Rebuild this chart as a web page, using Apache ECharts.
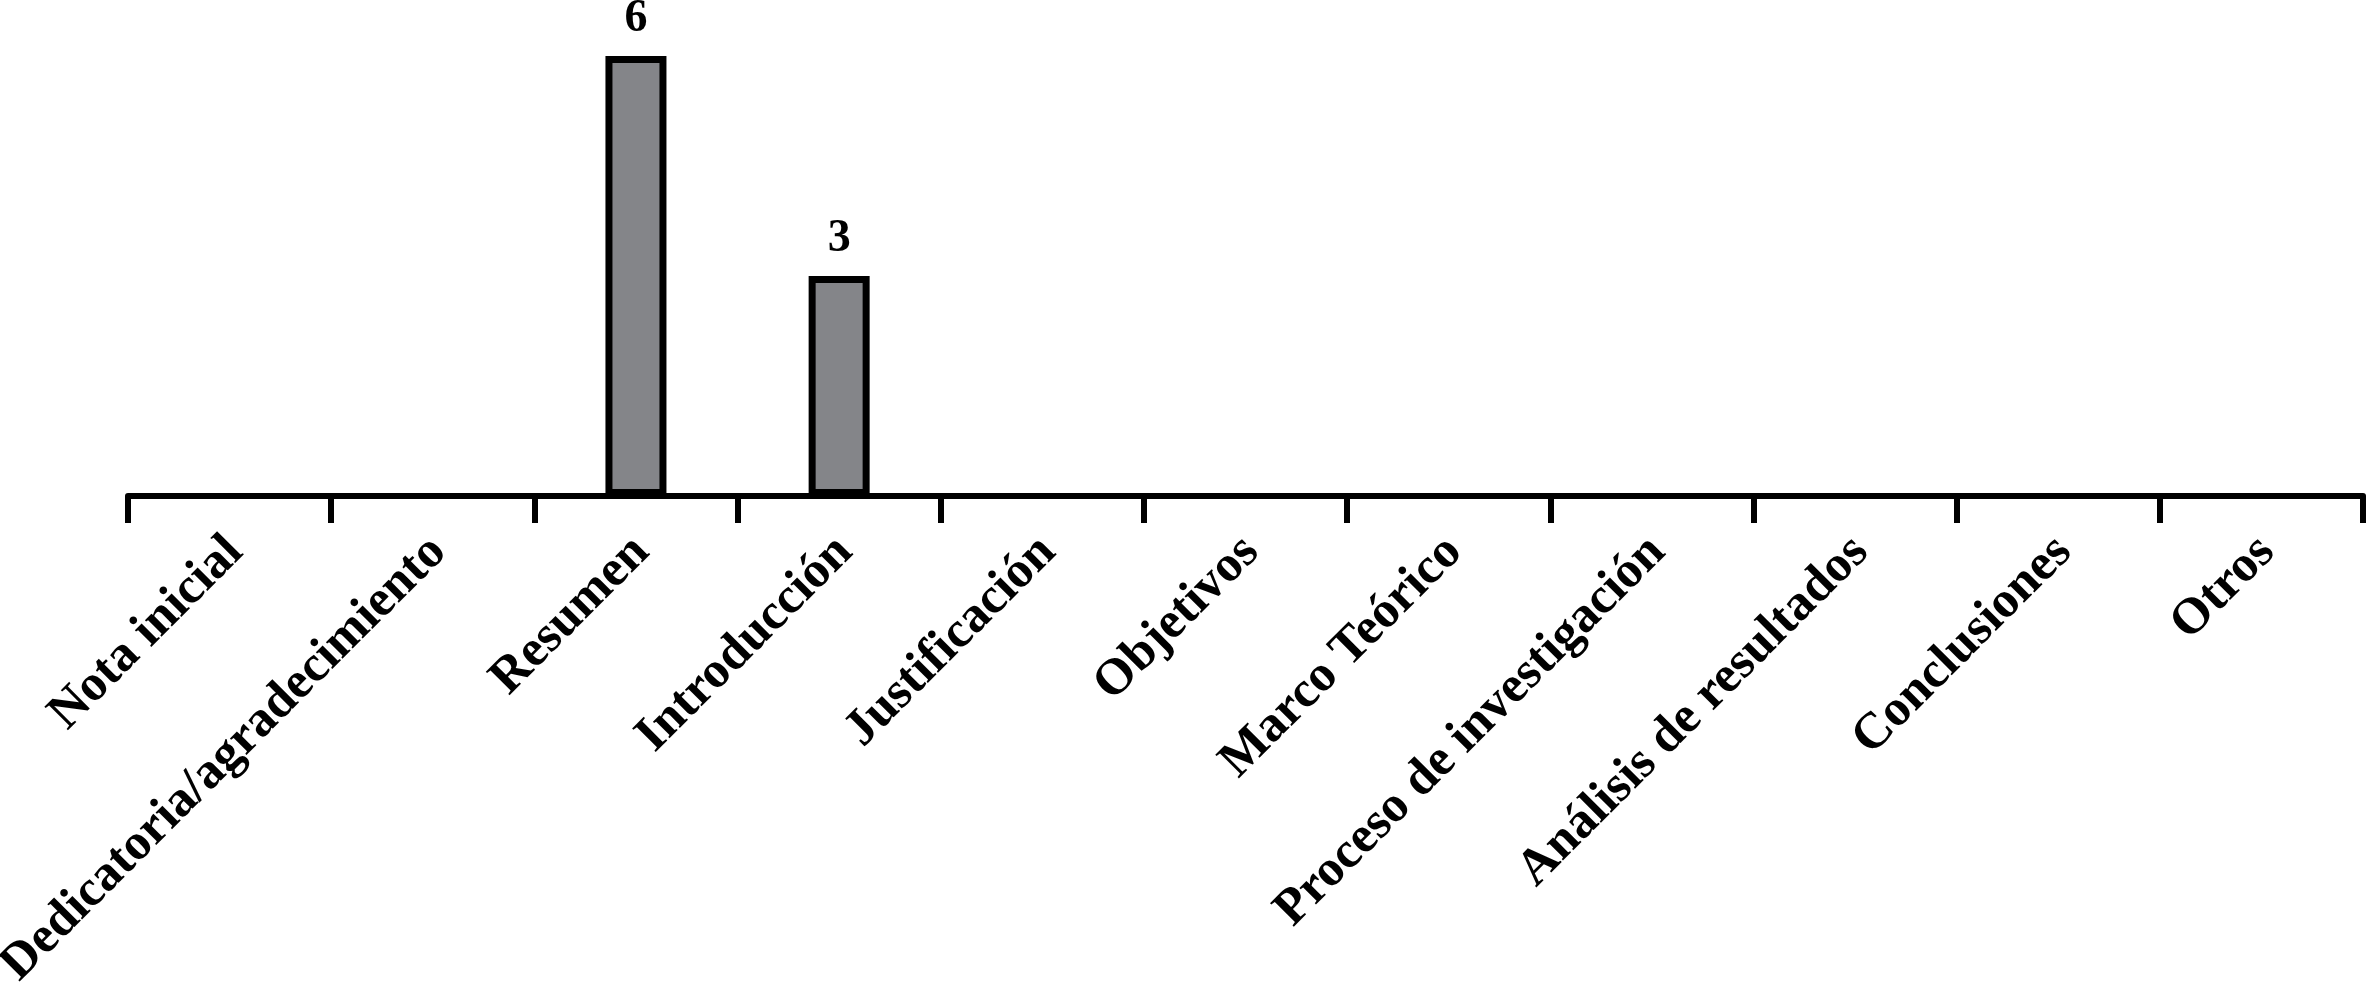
<!DOCTYPE html>
<html>
<head>
<meta charset="utf-8">
<style>
  html, body { margin: 0; padding: 0; background: #fff; }
  #main { width: 2368px; height: 993px; }
</style>
<script src="https://cdn.jsdelivr.net/npm/echarts@6/dist/echarts.min.js"></script>
</head>
<body>
<div id="main"></div>
<script>
// categorias del eje x
var categorias = ['Nota inicial', 'Dedicatoria/agradecimiento', 'Resumen', 'Introducción', 'Justificación',
  'Objetivos', 'Marco Teórico', 'Proceso de investigación', 'Análisis de resultados', 'Conclusiones', 'Otros'];
// valores (vacío = sin barra)
var valores = [null, null, 6, 3, null, null, null, null, null, null, null];

var fuente = '"Liberation Serif", "DejaVu Serif", serif';

var myChart = echarts.init(document.getElementById('main'));

var option = {
  animation: false,
  backgroundColor: '#fff',
  grid: {
    left: 128,
    right: 5,
    top: 56,
    bottom: 497,
    containLabel: false,
    outerBoundsMode: 'none'
  },
  xAxis: {
    type: 'category',
    data: categorias,
    axisLine: { lineStyle: { color: '#000', width: 6 } },
    axisTick: { show: true, length: 27, lineStyle: { color: '#000', width: 6 } },
    axisLabel: {
      rotate: 45,
      interval: 0,
      margin: 54,
      color: '#000',
      fontFamily: fuente,
      fontWeight: 'bold',
      fontSize: 51,
      padding: [0, -8, 0, 0]
    }
  },
  yAxis: {
    type: 'value',
    min: 0,
    max: 6,
    show: false,
    splitLine: { show: false }
  },
  series: [{
    type: 'bar',
    data: valores,
    barWidth: 61,
    itemStyle: {
      color: '#848589',
      borderColor: '#000',
      borderWidth: 7
    },
    label: {
      show: true,
      position: 'top',
      distance: 14,
      color: '#000',
      fontFamily: fuente,
      fontWeight: 'bold',
      fontSize: 46
    }
  }]
};

myChart.setOption(option);
</script>
</body>
</html>
